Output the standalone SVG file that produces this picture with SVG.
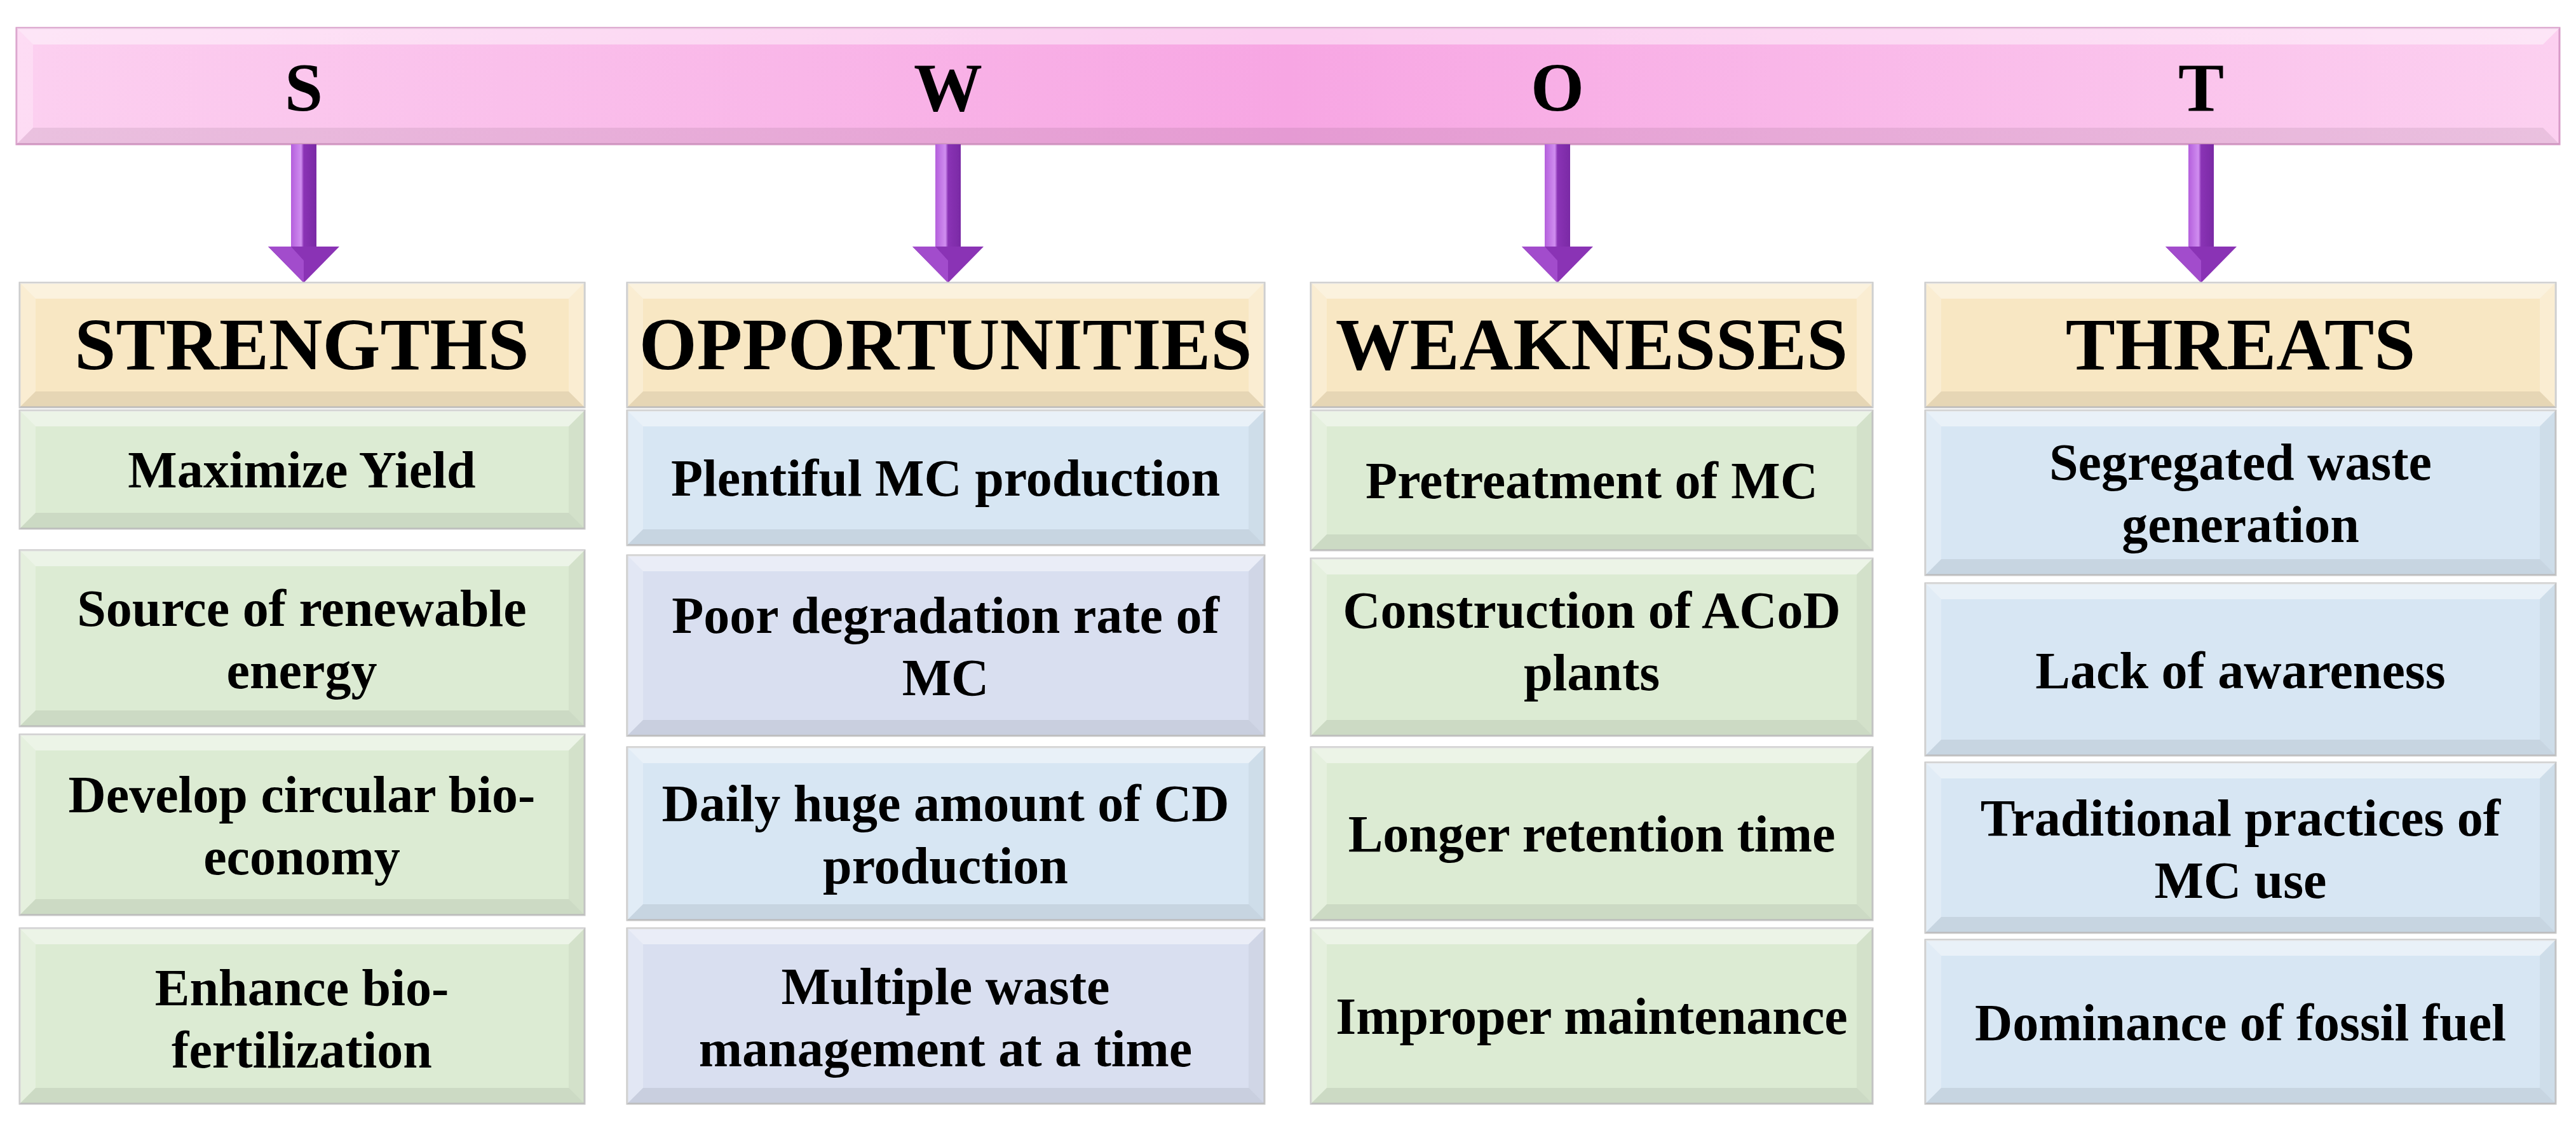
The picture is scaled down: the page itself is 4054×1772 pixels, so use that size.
<svg xmlns="http://www.w3.org/2000/svg" width="4054" height="1772" viewBox="0 0 4054 1772">
<defs>
<linearGradient id="bar" x1="0" y1="0" x2="1" y2="0">
<stop offset="0" stop-color="#fcd0f0"/><stop offset="0.5" stop-color="#f7a6e3"/><stop offset="1" stop-color="#fcd0f0"/>
</linearGradient>
<linearGradient id="shaft" x1="0" y1="0" x2="1" y2="0">
<stop offset="0" stop-color="#b45fdc"/><stop offset="0.4" stop-color="#d08ef0"/><stop offset="0.5" stop-color="#8a33b5"/><stop offset="1" stop-color="#7a2aa5"/>
</linearGradient>
<style>
text{font-family:'Liberation Serif','Times New Roman','DejaVu Serif',serif;font-weight:bold;fill:#000;text-anchor:middle}
.b{font-size:82px}.h{font-size:117px}.l{font-size:108px}
.hd{fill:#f8e7c3}.g{fill:#dcebd3}.bl{fill:#d7e6f3}.pb{fill:#d9dff0}
.edge{stroke:#c8c8c8;stroke-width:3}
.top{fill:#fff;opacity:.45}.lf{fill:#fff;opacity:.25}.bt{fill:#000;opacity:.07}.rt{fill:#000;opacity:.04}
.arw{fill:#8a33b5}
</style>
</defs>
<rect width="4054" height="1772" fill="#fff"/>
<g id="swot-bar">
<rect x="26" y="44" width="4002" height="183" fill="url(#bar)" stroke="#d89bc8" stroke-width="3"/>
<polygon class="top" points="26,44 4028,44 4002,70 52,70"/>
<polygon class="lf" points="26,44 52,70 52,201 26,227"/>
<polygon class="bt" points="26,227 52,201 4002,201 4028,227"/>
<text class="l" x="478" y="174" font-family="Liberation Serif, serif">S</text>
<text class="l" x="1492" y="174" font-family="Liberation Serif, serif">W</text>
<text class="l" x="2451" y="174" font-family="Liberation Serif, serif">O</text>
<text class="l" x="3464" y="174" font-family="Liberation Serif, serif">T</text>
</g>
<g id="connectors">
<g transform="translate(478,0)"><rect x="-20" y="227" width="40" height="161" fill="url(#shaft)"/><polygon class="arw" points="-56,388 56,388 0,445"/><polygon fill="#a24ccc" points="-56,388 0,445 0,410 -20,388"/></g>
<g transform="translate(1492,0)"><rect x="-20" y="227" width="40" height="161" fill="url(#shaft)"/><polygon class="arw" points="-56,388 56,388 0,445"/><polygon fill="#a24ccc" points="-56,388 0,445 0,410 -20,388"/></g>
<g transform="translate(2451,0)"><rect x="-20" y="227" width="40" height="161" fill="url(#shaft)"/><polygon class="arw" points="-56,388 56,388 0,445"/><polygon fill="#a24ccc" points="-56,388 0,445 0,410 -20,388"/></g>
<g transform="translate(3464,0)"><rect x="-20" y="227" width="40" height="161" fill="url(#shaft)"/><polygon class="arw" points="-56,388 56,388 0,445"/><polygon fill="#a24ccc" points="-56,388 0,445 0,410 -20,388"/></g>
</g>

<g id="col-s" font-family="Liberation Serif, serif">
<g id="s-head"><rect class="hd edge" x="31" y="445" width="889" height="196"/><polygon class="top" points="31,445 920,445 895,470 56,470"/><polygon class="lf" points="31,445 56,470 56,616 31,641"/><polygon class="bt" points="31,641 56,616 895,616 920,641"/><polygon class="lf" points="920,445 895,470 895,616 920,641"/><text class="h" x="475" y="581">STRENGTHS</text></g>
<g id="s1"><rect class="g edge" x="31" y="646" width="889" height="186"/><polygon class="top" points="31,646 920,646 895,671 56,671"/><polygon class="lf" points="31,646 56,671 56,807 31,832"/><polygon class="bt" points="31,832 56,807 895,807 920,832"/><polygon class="rt" points="920,646 895,671 895,807 920,832"/><text class="b" x="475" y="767">Maximize Yield</text></g>
<g id="s2"><rect class="g edge" x="31" y="866" width="889" height="277"/><polygon class="top" points="31,866 920,866 895,891 56,891"/><polygon class="lf" points="31,866 56,891 56,1118 31,1143"/><polygon class="bt" points="31,1143 56,1118 895,1118 920,1143"/><polygon class="rt" points="920,866 895,891 895,1118 920,1143"/><text class="b" x="475" y="985">Source of renewable</text><text class="b" x="475" y="1083">energy</text></g>
<g id="s3"><rect class="g edge" x="31" y="1156" width="889" height="284"/><polygon class="top" points="31,1156 920,1156 895,1181 56,1181"/><polygon class="lf" points="31,1156 56,1181 56,1415 31,1440"/><polygon class="bt" points="31,1440 56,1415 895,1415 920,1440"/><polygon class="rt" points="920,1156 895,1181 895,1415 920,1440"/><text class="b" x="475" y="1278">Develop circular bio-</text><text class="b" x="475" y="1376">economy</text></g>
<g id="s4"><rect class="g edge" x="31" y="1461" width="889" height="276"/><polygon class="top" points="31,1461 920,1461 895,1486 56,1486"/><polygon class="lf" points="31,1461 56,1486 56,1712 31,1737"/><polygon class="bt" points="31,1737 56,1712 895,1712 920,1737"/><polygon class="rt" points="920,1461 895,1486 895,1712 920,1737"/><text class="b" x="475" y="1582">Enhance bio-</text><text class="b" x="475" y="1680">fertilization</text></g>
</g>

<g id="col-o" font-family="Liberation Serif, serif">
<g id="o-head"><rect class="hd edge" x="987" y="445" width="1003" height="196"/><polygon class="top" points="987,445 1990,445 1965,470 1012,470"/><polygon class="lf" points="987,445 1012,470 1012,616 987,641"/><polygon class="bt" points="987,641 1012,616 1965,616 1990,641"/><polygon class="lf" points="1990,445 1965,470 1965,616 1990,641"/><text class="h" x="1488" y="581">OPPORTUNITIES</text></g>
<g id="o1"><rect class="bl edge" x="987" y="646" width="1003" height="212"/><polygon class="top" points="987,646 1990,646 1965,671 1012,671"/><polygon class="lf" points="987,646 1012,671 1012,833 987,858"/><polygon class="bt" points="987,858 1012,833 1965,833 1990,858"/><polygon class="rt" points="1990,646 1965,671 1965,833 1990,858"/><text class="b" x="1488" y="780">Plentiful MC production</text></g>
<g id="o2"><rect class="pb edge" x="987" y="874" width="1003" height="284"/><polygon class="top" points="987,874 1990,874 1965,899 1012,899"/><polygon class="lf" points="987,874 1012,899 1012,1133 987,1158"/><polygon class="bt" points="987,1158 1012,1133 1965,1133 1990,1158"/><polygon class="rt" points="1990,874 1965,899 1965,1133 1990,1158"/><text class="b" x="1488" y="996">Poor degradation rate of</text><text class="b" x="1488" y="1094">MC</text></g>
<g id="o3"><rect class="bl edge" x="987" y="1176" width="1003" height="272"/><polygon class="top" points="987,1176 1990,1176 1965,1201 1012,1201"/><polygon class="lf" points="987,1176 1012,1201 1012,1423 987,1448"/><polygon class="bt" points="987,1448 1012,1423 1965,1423 1990,1448"/><polygon class="rt" points="1990,1176 1965,1201 1965,1423 1990,1448"/><text class="b" x="1488" y="1292">Daily huge amount of CD</text><text class="b" x="1488" y="1390">production</text></g>
<g id="o4"><rect class="pb edge" x="987" y="1461" width="1003" height="276"/><polygon class="top" points="987,1461 1990,1461 1965,1486 1012,1486"/><polygon class="lf" points="987,1461 1012,1486 1012,1712 987,1737"/><polygon class="bt" points="987,1737 1012,1712 1965,1712 1990,1737"/><polygon class="rt" points="1990,1461 1965,1486 1965,1712 1990,1737"/><text class="b" x="1488" y="1580">Multiple waste</text><text class="b" x="1488" y="1678">management at a time</text></g>
</g>

<g id="col-w" font-family="Liberation Serif, serif">
<g id="w-head"><rect class="hd edge" x="2063" y="445" width="884" height="196"/><polygon class="top" points="2063,445 2947,445 2922,470 2088,470"/><polygon class="lf" points="2063,445 2088,470 2088,616 2063,641"/><polygon class="bt" points="2063,641 2088,616 2922,616 2947,641"/><polygon class="lf" points="2947,445 2922,470 2922,616 2947,641"/><text class="h" x="2505" y="581">WEAKNESSES</text></g>
<g id="w1"><rect class="g edge" x="2063" y="646" width="884" height="220"/><polygon class="top" points="2063,646 2947,646 2922,671 2088,671"/><polygon class="lf" points="2063,646 2088,671 2088,841 2063,866"/><polygon class="bt" points="2063,866 2088,841 2922,841 2947,866"/><polygon class="rt" points="2947,646 2922,671 2922,841 2947,866"/><text class="b" x="2505" y="784">Pretreatment of MC</text></g>
<g id="w2"><rect class="g edge" x="2063" y="879" width="884" height="279"/><polygon class="top" points="2063,879 2947,879 2922,904 2088,904"/><polygon class="lf" points="2063,879 2088,904 2088,1133 2063,1158"/><polygon class="bt" points="2063,1158 2088,1133 2922,1133 2947,1158"/><polygon class="rt" points="2947,879 2922,904 2922,1133 2947,1158"/><text class="b" x="2505" y="988">Construction of ACoD</text><text class="b" x="2505" y="1086">plants</text></g>
<g id="w3"><rect class="g edge" x="2063" y="1176" width="884" height="272"/><polygon class="top" points="2063,1176 2947,1176 2922,1201 2088,1201"/><polygon class="lf" points="2063,1176 2088,1201 2088,1423 2063,1448"/><polygon class="bt" points="2063,1448 2088,1423 2922,1423 2947,1448"/><polygon class="rt" points="2947,1176 2922,1201 2922,1423 2947,1448"/><text class="b" x="2505" y="1340">Longer retention time</text></g>
<g id="w4"><rect class="g edge" x="2063" y="1461" width="884" height="276"/><polygon class="top" points="2063,1461 2947,1461 2922,1486 2088,1486"/><polygon class="lf" points="2063,1461 2088,1486 2088,1712 2063,1737"/><polygon class="bt" points="2063,1737 2088,1712 2922,1712 2947,1737"/><polygon class="rt" points="2947,1461 2922,1486 2922,1712 2947,1737"/><text class="b" x="2505" y="1627">Improper maintenance</text></g>
</g>

<g id="col-t" font-family="Liberation Serif, serif">
<g id="t-head"><rect class="hd edge" x="3030" y="445" width="992" height="196"/><polygon class="top" points="3030,445 4022,445 3997,470 3055,470"/><polygon class="lf" points="3030,445 3055,470 3055,616 3030,641"/><polygon class="bt" points="3030,641 3055,616 3997,616 4022,641"/><polygon class="lf" points="4022,445 3997,470 3997,616 4022,641"/><text class="h" x="3526" y="581">THREATS</text></g>
<g id="t1"><rect class="bl edge" x="3030" y="646" width="992" height="259"/><polygon class="top" points="3030,646 4022,646 3997,671 3055,671"/><polygon class="lf" points="3030,646 3055,671 3055,880 3030,905"/><polygon class="bt" points="3030,905 3055,880 3997,880 4022,905"/><polygon class="rt" points="4022,646 3997,671 3997,880 4022,905"/><text class="b" x="3526" y="755">Segregated waste</text><text class="b" x="3526" y="853">generation</text></g>
<g id="t2"><rect class="bl edge" x="3030" y="918" width="992" height="271"/><polygon class="top" points="3030,918 4022,918 3997,943 3055,943"/><polygon class="lf" points="3030,918 3055,943 3055,1164 3030,1189"/><polygon class="bt" points="3030,1189 3055,1164 3997,1164 4022,1189"/><polygon class="rt" points="4022,918 3997,943 3997,1164 4022,1189"/><text class="b" x="3526" y="1083">Lack of awareness</text></g>
<g id="t3"><rect class="bl edge" x="3030" y="1200" width="992" height="268"/><polygon class="top" points="3030,1200 4022,1200 3997,1225 3055,1225"/><polygon class="lf" points="3030,1200 3055,1225 3055,1443 3030,1468"/><polygon class="bt" points="3030,1468 3055,1443 3997,1443 4022,1468"/><polygon class="rt" points="4022,1200 3997,1225 3997,1443 4022,1468"/><text class="b" x="3526" y="1315">Traditional practices  of</text><text class="b" x="3526" y="1413">MC use</text></g>
<g id="t4"><rect class="bl edge" x="3030" y="1479" width="992" height="258"/><polygon class="top" points="3030,1479 4022,1479 3997,1504 3055,1504"/><polygon class="lf" points="3030,1479 3055,1504 3055,1712 3030,1737"/><polygon class="bt" points="3030,1737 3055,1712 3997,1712 4022,1737"/><polygon class="rt" points="4022,1479 3997,1504 3997,1712 4022,1737"/><text class="b" x="3526" y="1637">Dominance of fossil fuel</text></g>
</g>
</svg>
